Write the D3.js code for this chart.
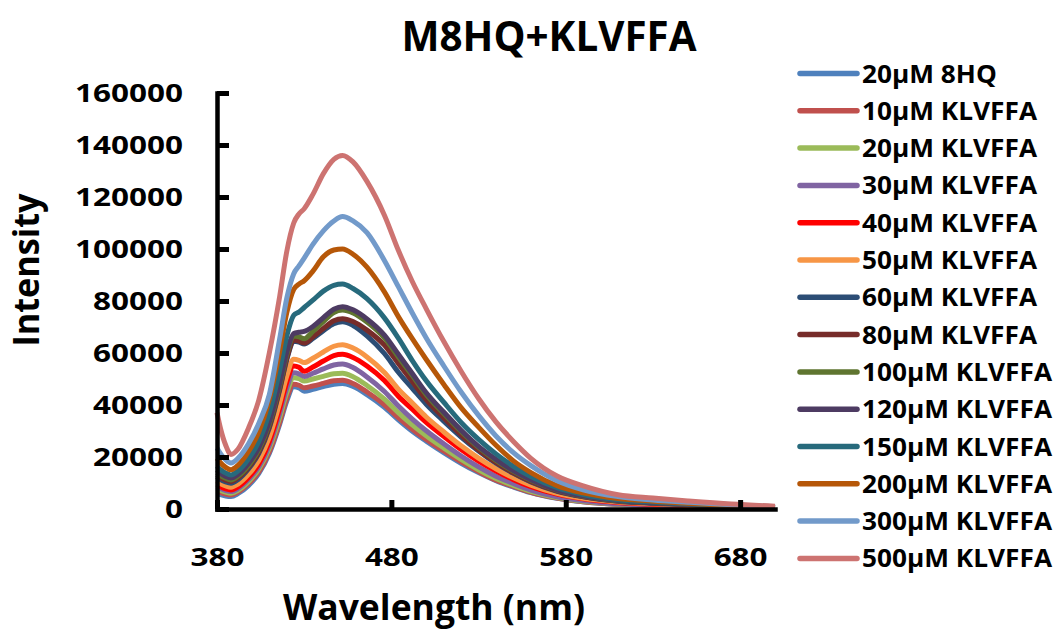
<!DOCTYPE html>
<html><head><meta charset="utf-8">
<script src="https://cdn.jsdelivr.net/npm/d3@7"></script>
<style>
body{margin:0;background:#fff}
svg{display:block}
text{font-family:'Open Sans',sans-serif;font-weight:700;fill:#000}
</style>
</head><body>
<svg id="c" width="1058" height="641"></svg>
<script>
// ---------- data ----------
const wavelengths = [380, 382, 385, 388, 392, 398, 404, 410, 416, 420, 424, 427, 430, 435, 441, 447, 452, 458, 466, 476, 484, 492, 500, 510, 520, 530, 540, 550, 560, 575, 590, 610, 630, 650, 675, 700];

const seriesNames = ["20µM 8HQ","10µM KLVFFA","20µM KLVFFA","30µM KLVFFA","40µM KLVFFA","50µM KLVFFA","60µM KLVFFA","80µM KLVFFA","100µM KLVFFA","120µM KLVFFA","150µM KLVFFA","200µM KLVFFA","300µM KLVFFA","500µM KLVFFA"];
const seriesColors = ["#4F81BD","#C0504D","#9BBB59","#8064A2","#FF0000","#F79646","#2C4D75","#772C2A","#5F7530","#4D3B62","#276A7C","#B65708","#729ACA","#CD7371"];

const s8HQ  = [6000, 5500, 5000, 4800, 5900, 9000, 13700, 21300, 32700, 41500, 47000, 46600, 45300, 46000, 47100, 48000, 48300, 47100, 44000, 39100, 34300, 29900, 26100, 21700, 17600, 14000, 10900, 8450, 6300, 4100, 2750, 1740, 1260, 920, 580, 340];
const s10   = [7000, 6400, 5700, 5400, 6500, 9700, 14300, 22000, 33500, 42500, 48000, 47600, 46600, 47300, 48300, 49300, 49500, 48300, 45000, 40100, 35100, 30700, 26700, 22300, 18100, 14400, 11100, 8700, 6400, 4200, 2800, 1800, 1300, 940, 590, 350];
const s20   = [8000, 7200, 6500, 6100, 7200, 10500, 15400, 23400, 35400, 44700, 50500, 50100, 49200, 50000, 51000, 52000, 52200, 50900, 47500, 42300, 37100, 32400, 28200, 23500, 19100, 15100, 11700, 9100, 6800, 4400, 3000, 1900, 1400, 990, 630, 370];
const s30   = [8800, 8000, 7100, 6700, 7800, 11300, 16300, 24500, 36900, 46500, 52400, 52000, 51000, 52200, 53900, 55400, 55800, 54400, 50800, 45200, 39600, 34600, 30100, 25100, 20400, 16200, 12600, 9800, 7300, 4700, 3200, 2000, 1450, 1060, 670, 390];
const s40   = [9500, 8600, 7700, 7300, 8500, 12100, 17300, 25900, 38800, 48800, 55000, 54500, 53000, 54600, 56900, 59000, 59500, 58300, 55000, 49400, 43400, 38400, 33300, 28000, 22900, 18400, 14600, 11300, 8600, 5700, 3900, 2500, 1800, 1400, 830, 480];
const s50   = [10800, 9800, 8900, 8400, 9600, 13300, 18700, 27600, 40900, 51200, 57600, 57200, 56300, 58000, 60400, 62600, 63200, 61900, 58500, 52500, 46100, 40800, 35400, 29700, 24300, 19600, 15500, 12000, 9200, 6000, 4100, 2700, 2000, 1450, 890, 510];
const s60   = [12500, 11400, 10400, 9900, 11300, 15400, 21400, 31200, 45900, 57400, 64500, 64200, 63500, 65600, 68600, 71300, 72000, 70600, 66600, 59800, 52600, 46400, 40300, 33800, 27700, 22300, 17600, 13700, 10400, 6800, 4700, 3000, 2200, 1700, 1000, 580];
const s80   = [13200, 12100, 11100, 10600, 12000, 16000, 22000, 31800, 46500, 57900, 65000, 64600, 63800, 66200, 69400, 72400, 73200, 72100, 68800, 63000, 56000, 49000, 42100, 35100, 28500, 22700, 17900, 13900, 10600, 7000, 4800, 3100, 2300, 1700, 1000, 590];
const s100  = [14000, 12900, 11800, 11200, 12600, 16700, 22800, 32800, 47700, 59300, 66500, 66200, 65500, 68300, 72100, 75600, 76500, 75400, 71900, 65800, 58500, 51300, 44000, 36700, 29800, 23700, 18700, 14500, 11100, 7300, 5000, 3200, 2400, 1800, 1070, 610];
const s120  = [15000, 13700, 12500, 11900, 13300, 17500, 23600, 33600, 48600, 60300, 67500, 68000, 68300, 70200, 73600, 76800, 77800, 76600, 73100, 66900, 59500, 52100, 44700, 37300, 30300, 24100, 19100, 14800, 11300, 7400, 5100, 3300, 2400, 1800, 1090, 620];
const s150  = [16500, 15100, 13800, 13100, 14600, 19200, 26000, 37000, 53600, 66500, 74500, 75800, 77500, 80300, 83800, 86000, 86500, 84800, 80900, 73500, 65700, 57100, 49300, 41100, 33300, 26800, 21200, 16400, 12500, 8200, 5600, 3600, 2700, 2000, 1200, 690];
const s200  = [19500, 17800, 16000, 15100, 16800, 22000, 29700, 42200, 60900, 75500, 84500, 86500, 87800, 91500, 97000, 99600, 100000, 98000, 93000, 83500, 74000, 65500, 57500, 48000, 39000, 31500, 24500, 18500, 14000, 9000, 6200, 4000, 3000, 2200, 1300, 800];
const s300  = [23500, 21300, 18900, 17700, 19500, 25000, 33000, 44000, 65700, 81000, 90500, 93500, 96500, 101800, 107000, 110800, 112500, 110800, 106300, 95600, 85500, 75400, 65800, 55100, 45000, 36000, 28100, 21700, 16700, 10900, 7400, 4800, 3500, 2600, 1600, 900];
const s500  = [37000, 31000, 24500, 21000, 23000, 31000, 42000, 60000, 82000, 99000, 110000, 113500, 115500, 121000, 129000, 134500, 136000, 133500, 126000, 113000, 99500, 87500, 77000, 64500, 53000, 42500, 33500, 26000, 19500, 12700, 8900, 5500, 4200, 3100, 1900, 1100];

const seriesValues = [s8HQ, s10, s20, s30, s40, s50, s60, s80, s100, s120, s150, s200, s300, s500];

const xTicks = [380, 480, 580, 680];
const yTicks = [0, 20000, 40000, 60000, 80000, 100000, 120000, 140000, 160000];
const titleText = "M8HQ+KLVFFA";
const xTitle = "Wavelength (nm)";
const yTitle = "Intensity";

// ---------- drawing ----------
const svg = d3.select('#c');
const x = d3.scaleLinear().domain([380, 700]).range([217, 775]);
const y = d3.scaleLinear().domain([0, 160000]).range([509, 93]);

// series lines
const line = d3.line()
  .x((d, i) => x(wavelengths[i]))
  .y(d => y(d))
  .curve(d3.curveMonotoneX);

svg.append('g').selectAll('path')
  .data(seriesValues)
  .join('path')
  .attr('d', line)
  .attr('fill', 'none')
  .attr('stroke', (d, i) => seriesColors[i])
  .attr('stroke-width', 5)
  .attr('stroke-linejoin', 'round');

// axes
const yAxis = d3.axisLeft(y).tickValues(yTicks).tickSizeInner(-12).tickSizeOuter(0)
  .tickPadding(34).tickFormat(d3.format('d'));
const gy = svg.append('g').attr('transform', 'translate(217,0)').call(yAxis);
const xAxis = d3.axisBottom(x).tickValues(xTicks).tickSizeInner(-9).tickSizeOuter(0)
  .tickPadding(39).tickFormat(d3.format('d'));
const gx = svg.append('g').attr('transform', 'translate(0,509)').call(xAxis);

[gy, gx].forEach(g => {
  g.select('.domain').attr('stroke', '#000').attr('stroke-width', 4.5).attr('stroke-linecap', 'square');
  g.selectAll('.tick line').attr('stroke', '#000').attr('stroke-width', 5);
  g.selectAll('.tick text')
    .attr('font-family', "'Open Sans', sans-serif")
    .attr('font-weight', 700)
    .attr('font-size', 25)
    .attr('fill', '#000')
    .each(function () {
      const t = d3.select(this);
      t.attr('textLength', 18 * t.text().length).attr('lengthAdjust', 'spacingAndGlyphs');
    });
});

// titles
svg.append('text').attr('x', 549).attr('y', 51).attr('text-anchor', 'middle')
  .attr('font-size', 42).attr('textLength', 295).attr('lengthAdjust', 'spacingAndGlyphs')
  .text(titleText);

svg.append('text').attr('x', 434).attr('y', 620).attr('text-anchor', 'middle')
  .attr('font-size', 36).attr('textLength', 302).attr('lengthAdjust', 'spacingAndGlyphs')
  .text(xTitle);

svg.append('text').attr('transform', 'translate(39,270) rotate(-90)').attr('text-anchor', 'middle')
  .attr('font-size', 36).attr('textLength', 153).attr('lengthAdjust', 'spacingAndGlyphs')
  .text(yTitle);

// legend
const leg = svg.append('g');
const rowY = i => 73.5 + i * 37.3;
leg.selectAll('line').data(seriesNames).join('line')
  .attr('x1', 800).attr('x2', 857)
  .attr('y1', (d, i) => rowY(i)).attr('y2', (d, i) => rowY(i))
  .attr('stroke', (d, i) => seriesColors[i])
  .attr('stroke-width', 5.5).attr('stroke-linecap', 'round');
const legText = leg.selectAll('text').data(seriesNames).join('text')
  .attr('x', 862).attr('y', (d, i) => rowY(i) + 9)
  .attr('font-size', 25)
  .text(d => d);
const refNode = legText.filter(d => d === "10µM KLVFFA").node();
const scale = 175 / refNode.getComputedTextLength();
legText.each(function () {
  const w = this.getComputedTextLength();
  d3.select(this).attr('textLength', w * scale).attr('lengthAdjust', 'spacingAndGlyphs');
});
</script>
</body></html>
